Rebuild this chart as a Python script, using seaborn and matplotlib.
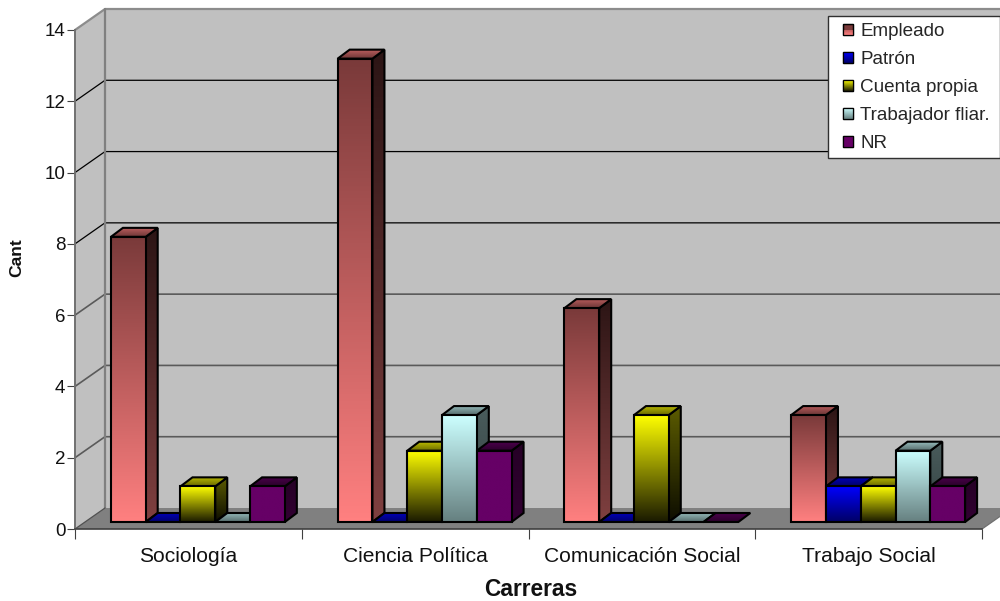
import numpy as np
import pandas as pd
import matplotlib
matplotlib.use('Agg')
import matplotlib.pyplot as plt
import seaborn as sns
from matplotlib.colors import LinearSegmentedColormap
from matplotlib.legend_handler import HandlerPatch
from matplotlib.lines import Line2D
from matplotlib.patches import Polygon, Patch, Rectangle
from matplotlib.transforms import Affine2D, IdentityTransform

carreras = ['Sociología', 'Ciencia Política', 'Comunicación Social', 'Trabajo Social']
series = ['Empleado', 'Patrón', 'Cuenta propia', 'Trabajador fliar.', 'NR']
empleado = [8, 13, 6, 3]
patron = [0, 0, 0, 1]
cuenta_propia = [1, 2, 3, 1]
trabajador = [0, 3, 0, 2]
nr = [1, 2, 0, 1]

# colour at the top and at the bottom of each front face
front_colors = {
    'Empleado': ('#7a3a3a', '#ff8080'),
    'Patrón': ('#0000ff', '#000066'),
    'Cuenta propia': ('#ffff00', '#1a1a00'),
    'Trabajador fliar.': ('#ccffff', '#668080'),
    'NR': ('#660066', '#660066'),
}

df = pd.DataFrame({'carrera': np.repeat(carreras, 5),
                   'tipo': series * 4,
                   'cant': np.array([empleado, patron, cuenta_propia, trabajador, nr]).T.ravel()})

sns.set_style('white')
plt.rcParams['font.family'] = ['Liberation Sans', 'DejaVu Sans']

W, H = 1000, 601
fig = plt.figure(figsize=(W / 100, H / 100), dpi=100)
ax = fig.add_axes([75 / W, (H - 529) / H, 907 / W, 499 / H])

palette = {k: v[1] for k, v in front_colors.items()}
sns.barplot(data=df, x='carrera', y='cant', hue='tipo', hue_order=series, order=carreras,
            palette=palette, width=0.767, legend=False, ax=ax)

ax.set_xlim(-0.5, 3.5)
ax.set_ylim(0, 14)
ax.set_yticks(range(0, 15, 2))
ax.set_autoscale_on(False)
ax.patch.set_visible(False)
sns.despine(ax=ax)
ax.spines['left'].set_color('#707070')
ax.spines['left'].set_linewidth(1.4)
ax.spines['bottom'].set_color('#404040')
ax.spines['bottom'].set_linewidth(1.2)

ax.set_xticks(np.arange(-0.5, 4, 1))
ax.set_xticklabels([])
ax.set_xticks(range(4), labels=carreras, minor=True)
ax.tick_params(axis='x', which='major', bottom=True, length=7, width=0.8, color='#404040')
ax.tick_params(axis='x', which='minor', bottom=True, length=0, labelsize=15.1, pad=12.6, labelcolor='#111111')
ax.tick_params(axis='y', left=True, length=5.5, width=0.8, color='#404040', labelsize=13.5, pad=1.5, labelcolor='#111111')
ax.set_xlabel('Carreras', fontsize=16.4, fontweight='bold', color='#111111', va='center')
ax.set_ylabel('Cant', fontsize=12.6, fontweight='bold', color='#111111', va='center')
ax.xaxis.set_label_coords(456 / 907, -60 / 499)
ax.yaxis.set_label_coords(-58 / 907, 271 / 499)

ident = IdentityTransform()
wall_dx, wall_dy = 30, 21     # depth of the chart box
bar_dx, bar_dy = 9.5, 7       # bars stand this far behind the front edge
depth_dx, depth_dy = 12, 9    # depth of each bar


def to_px(x, y):
    return ax.transData.transform((x, y))


def flat_poly(points, color, z):
    ax.add_patch(Polygon(points, closed=True, facecolor=color, edgecolor='none',
                         transform=ident, zorder=z, clip_on=False))


def grad_poly(points, top, bottom, z, lw=1.5):
    pts = np.array(points)
    cmap = LinearSegmentedColormap.from_list('g', [top, bottom])
    im = ax.imshow(np.linspace(0, 1, 128)[:, None], cmap=cmap, aspect='auto', origin='upper',
                   extent=(pts[:, 0].min(), pts[:, 0].max(), pts[:, 1].min(), pts[:, 1].max()),
                   transform=ident, zorder=z, interpolation='bilinear')
    im.set_clip_path(Polygon(pts, closed=True, transform=ident))
    ax.add_patch(Polygon(pts, closed=True, facecolor='none', edgecolor='black', lw=lw,
                         joinstyle='miter', transform=ident, zorder=z + 0.01, clip_on=False))


def scale(color, k):
    return tuple(min(1, c * k) for c in matplotlib.colors.to_rgb(color))


def small_square(legend, orig_handle, xdescent, ydescent, width, height, fontsize):
    # legend swatch is about 10 px, set to the right of its handle box
    s = 7.6
    return Rectangle((width - xdescent - s, (height - s) / 2 - ydescent), s, s)


# back wall, side wall and floor
x0, y0 = to_px(-0.5, 0)
x1, y1 = to_px(3.5, 14)
flat_poly([(x0, y0), (x0 + wall_dx, y0 + wall_dy), (x0 + wall_dx, y1 + wall_dy), (x0, y1)], '#c0c0c0', 0.5)
flat_poly([(x0 + wall_dx, y0 + wall_dy), (x1 + wall_dx, y0 + wall_dy),
           (x1 + wall_dx, y1 + wall_dy), (x0 + wall_dx, y1 + wall_dy)], '#c0c0c0', 0.5)
flat_poly([(x0, y0), (x0 + wall_dx, y0 + wall_dy), (x1 + wall_dx, y0 + wall_dy), (x1, y0)], '#808080', 0.6)

for v in ax.get_yticks()[1:-1]:
    _, yy = to_px(-0.5, v)
    col, lw = ('black', 0.9) if v >= 8 else ('#5a5a5a', 1.2)
    ax.add_line(Line2D([x0, x0 + wall_dx, x1 + wall_dx], [yy, yy + wall_dy, yy + wall_dy],
                       color=col, lw=lw, transform=ident, zorder=0.7, clip_on=False))
ax.add_line(Line2D([x0, x0 + wall_dx, x1 + wall_dx], [y1, y1 + wall_dy, y1 + wall_dy],
                   color='#8c8c8c', lw=1.6, transform=ident, zorder=0.8, clip_on=False))
ax.add_line(Line2D([x0 + wall_dx, x0 + wall_dx], [y0 + wall_dy, y1 + wall_dy],
                   color='#808080', lw=1.6, transform=ident, zorder=0.8, clip_on=False))
ax.add_line(Line2D([x0, x0 + wall_dx], [y0, y0 + wall_dy],
                   color='#505050', lw=0.9, transform=ident, zorder=0.8, clip_on=False))
ax.add_line(Line2D([x1, x1 + wall_dx], [y0, y0 + wall_dy],
                   color='#707070', lw=0.9, transform=ident, zorder=0.8, clip_on=False))

# 3D faces built from the bars seaborn placed
shift = ax.transData + Affine2D().translate(bar_dx, bar_dy)
for s, container in enumerate(ax.containers):
    top_c, bot_c = front_colors[series[s]]
    for bar in container:
        z = 3 + s
        bx0, by0 = shift.transform((bar.get_x(), bar.get_y()))
        bx1, by1 = shift.transform((bar.get_x() + bar.get_width(), bar.get_y() + bar.get_height()))
        back = (depth_dx, depth_dy)
        if by1 > by0:
            grad_poly([(bx1, by0), (bx1 + back[0], by0 + back[1]), (bx1 + back[0], by1 + back[1]), (bx1, by1)],
                      scale(top_c, 0.36), scale(bot_c, 0.5), z)
        grad_poly([(bx0, by1), (bx1, by1), (bx1 + back[0], by1 + back[1]), (bx0 + back[0], by1 + back[1])],
                  scale(bot_c if s == 0 else top_c, 0.72), scale(bot_c if s == 0 else top_c, 0.42), z + 0.1)
        if by1 > by0:
            grad_poly([(bx0, by0), (bx1, by0), (bx1, by1), (bx0, by1)], top_c, bot_c, z + 0.2)
        bar.set_visible(False)

# legend box drawn by hand so the padding can differ left and right
ax.add_patch(Rectangle((828, H - 158), 172, 142, facecolor='white', edgecolor='#303030', lw=1,
                       transform=ident, zorder=19, clip_on=False))
handles = [Patch(facecolor=front_colors[n][0], edgecolor='black', lw=0.9) for n in series]
leg = ax.legend(handles, series, loc='upper right', fontsize=13.6, frameon=False,
                handlelength=0.96, handleheight=0.8,
                handletextpad=0.37, labelspacing=0.54, borderpad=0.36, borderaxespad=0,
                handler_map={Patch: HandlerPatch(patch_func=small_square)})
leg.set_zorder(20)
leg.set_bbox_to_anchor((996.5 / W, 1 - 15.5 / H), transform=fig.transFigure)
fig.canvas.draw()
# swatches get the same gradient as the bars
for n, h in zip(series, leg.get_patches()):
    e = h.get_window_extent()
    grad_poly([(e.x0, e.y0), (e.x1, e.y0), (e.x1, e.y1), (e.x0, e.y1)], front_colors[n][0], front_colors[n][1], 21, lw=0.9)

fig.savefig('out.png', dpi=100)
